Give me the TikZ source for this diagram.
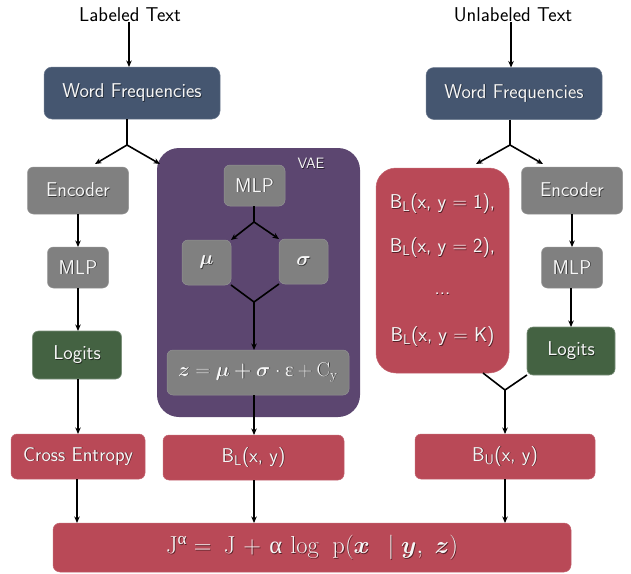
\RequirePackage{fix-cm}
\documentclass[tikz,border=0pt]{standalone}
\usepackage{amsmath}
\usepackage{fontspec}
\newfontfamily\grk{Liberation Serif}
\usetikzlibrary{arrows.meta,calc}

\definecolor{wfblue}{RGB}{69,86,112}
\definecolor{boxgray}{RGB}{128,128,128}
\definecolor{logitgreen}{RGB}{68,98,66}
\definecolor{lossred}{RGB}{185,73,87}
\definecolor{vaepurple}{RGB}{92,70,112}
\definecolor{txtwhite}{RGB}{246,246,246}

% soft drop shadow behind white labels
\newcommand\shcol{black}
\newcommand\shd[1]{\leavevmode\rlap{\kern0.8pt\raisebox{-0.8pt}{\color{\shcol}#1}}#1}
% upright Greek letters
\newcommand\ua{\text{\grk α}}
\newcommand\ue{\text{\grk ε}}

\tikzset{
  blk/.style={rectangle, rounded corners=6pt, inner sep=0pt, outer sep=0pt,
    text=txtwhite, font=\sffamily\fontsize{20}{24}\selectfont},
  wfbox/.style={blk, fill=wfblue, draw=wfblue!80!white, line width=0.5pt,
    rounded corners=8pt, execute at begin node={\def\shcol{wfblue!45!black}}},
  graybox/.style={blk, fill=boxgray, draw=boxgray!85!white, line width=0.5pt,
    execute at begin node={\def\shcol{boxgray!45!black}}},
  greenbox/.style={blk, fill=logitgreen, draw=logitgreen!70!white, line width=0.6pt,
    execute at begin node={\def\shcol{logitgreen!45!black}}},
  redbox/.style={blk, fill=lossred, draw=lossred!85!white, line width=0.5pt,
    execute at begin node={\def\shcol{lossred!45!black}}},
  vaebox/.style={rectangle, rounded corners=22pt, fill=vaepurple, inner sep=0pt},
  plain/.style={inner sep=0pt, text=black, font=\sffamily\fontsize{20}{24}\selectfont},
  redtxt/.style={inner sep=0pt, text=txtwhite, font=\sffamily\fontsize{20}{24}\selectfont,
    execute at begin node={\def\shcol{lossred!45!black}}},
  ln/.style={line width=1.6pt, black},
  arr/.style={ln, -{Stealth[length=6.5pt,width=5.5pt]}},
}

\begin{document}
\begin{tikzpicture}[x=1pt,y=-1pt]
\useasboundingbox (0,0) rectangle (631,573);

% ---------- labeled branch ----------
\node[plain] (lt) at (130,15) {Labeled Text};
\node[wfbox, minimum width=176pt, minimum height=52pt] (wf1) at (132,93) {\shd{Word Frequencies}};
\node[graybox, minimum width=101pt, minimum height=47pt] (enc1) at (78,190.5) {\shd{Encoder}};
\node[graybox, minimum width=61pt, minimum height=41pt] (mlp1) at (78,267.5) {\shd{MLP}};
\node[greenbox, minimum width=89pt, minimum height=48pt] (log1) at (77,355) {\shd{Logits}};
\node[redbox, minimum width=134pt, minimum height=45pt] (ce) at (78,456.5) {\shd{Cross Entropy}};

% ---------- VAE ----------
\node[vaebox, minimum width=203pt, minimum height=269pt] (vae) at (258.5,282.5) {};
\node[inner sep=0pt, text=txtwhite, font=\sffamily\fontsize{15}{18}\selectfont,
  execute at begin node={\def\shcol{vaepurple!45!black}}] (vaelbl) at (311,164) {\shd{VAE}};
\node[graybox, minimum width=61pt, minimum height=41pt] (vmlp) at (254.5,185.5) {\shd{MLP}};
\node[graybox, minimum width=49pt, minimum height=45pt] (mu) at (206.5,262.5) {\shd{$\boldsymbol{\mu}$}};
\node[graybox, minimum width=49pt, minimum height=45pt] (sg) at (303.5,261.5) {\shd{$\boldsymbol{\sigma}$}};
\node[graybox, minimum width=182pt, minimum height=45pt] (zz) at (258,372.5)
  {\shd{$\boldsymbol{z} = \boldsymbol{\mu} \mathbin{\boldsymbol{+}} \boldsymbol{\sigma} \cdot \ue + \mathrm{C}_{\mathrm{y}}$}};
\node[redbox, minimum width=181pt, minimum height=45pt] (bl) at (253.5,457.5) {\shd{B$_{\textsf{L}}$(x, y)}};

% ---------- unlabeled branch ----------
\node[plain] (ut) at (513,15) {Unlabeled Text};
\node[wfbox, minimum width=176pt, minimum height=52pt] (wf2) at (514,93.5) {\shd{Word Frequencies}};
\node[redbox, rounded corners=20pt, minimum width=133pt, minimum height=205pt] (bll) at (442.5,270.5) {};
\node[redtxt] (bla) at (442.5,204) {\shd{B$_{\textsf{L}}$(x, y $=$ 1),}};
\node[redtxt] (blb) at (442.5,248) {\shd{B$_{\textsf{L}}$(x, y $=$ 2),}};
\node[redtxt] (blc) at (442.5,294) {\shd{...}};
\node[redtxt] (bld) at (442.5,337) {\shd{B$_{\textsf{L}}$(x, y $=$ K)}};
\node[graybox, minimum width=101pt, minimum height=47pt] (enc2) at (572,190.5) {\shd{Encoder}};
\node[graybox, minimum width=61pt, minimum height=41pt] (mlp2) at (572,267.5) {\shd{MLP}};
\node[greenbox, minimum width=88pt, minimum height=48pt] (log2) at (571,351) {\shd{Logits}};
\node[redbox, minimum width=180pt, minimum height=45pt] (bu) at (505,456.5) {\shd{B$_{\textsf{U}}$(x, y)}};

% ---------- objective ----------
\node[redbox, rounded corners=7pt, minimum width=518pt, minimum height=49pt,
  font=\fontsize{24.5}{29}\selectfont] (obj) at (312,547.5)
  {\shd{$\mathrm{J}^{\ua} = \mkern4mu \mathrm{J} \mkern2mu + \mkern2mu \ua \mkern3mu \log \mkern7mu \mathrm{p}(\boldsymbol{x} \mkern8mu \mid \boldsymbol{y},\ \boldsymbol{z})$}};

% ---------- junction points ----------
\coordinate (b1) at (127,145);
\coordinate (b1l) at (95,164);
\coordinate (b1r) at (160,164);
\coordinate (b2) at (510,145);
\coordinate (b2l) at (476,164);
\coordinate (b2r) at (543,164);
\coordinate (vb) at (254,222);
\coordinate (vm) at (254,302);
\coordinate (m2) at (505,390);
\coordinate (bllout) at (483,373);

% ---------- connectors ----------
\draw[arr] (lt.south -| 129,0) -- (wf1.north -| 129,0);
\draw[ln] (wf1.south -| b1) -- (b1);
\draw[arr] (b1) -- (b1l);
\draw[arr] (b1) -- (b1r);
\draw[arr] (enc1) -- (mlp1);
\draw[arr] (mlp1) -- (log1.north -| mlp1);
\draw[arr] (log1.south -| ce) -- (ce);

\draw[ln] (vmlp.south -| vb) -- (vb);
\draw[arr] (vb) -- (mu.north east);
\draw[arr] (vb) -- (sg.north west);
\draw[ln] (mu.south east) -- (vm);
\draw[ln] (sg.south west) -- (vm);
\draw[arr] (vm) -- (zz.north -| vm);
\draw[arr] (zz.south -| vm) -- (bl.north -| vm);

\draw[arr] (ut.south -| 511,0) -- (wf2.north -| 511,0);
\draw[ln] (wf2.south -| b2) -- (b2);
\draw[arr] (b2) -- (b2l);
\draw[arr] (b2) -- (b2r);
\draw[arr] (enc2) -- (mlp2);
\draw[arr] (mlp2.south -| 571,0) -- (log2.north -| 571,0);
\draw[ln] (bllout) -- (m2);
\draw[ln] (log2.south west) -- (m2);
\draw[arr] (m2) -- (bu.north -| m2);

\draw[arr] (ce.south -| 77,0) -- (obj.north -| 77,0);
\draw[arr] (bl.south -| vm) -- (obj.north -| vm);
\draw[arr] (bu.south -| m2) -- (obj.north -| m2);
\end{tikzpicture}
\end{document}
